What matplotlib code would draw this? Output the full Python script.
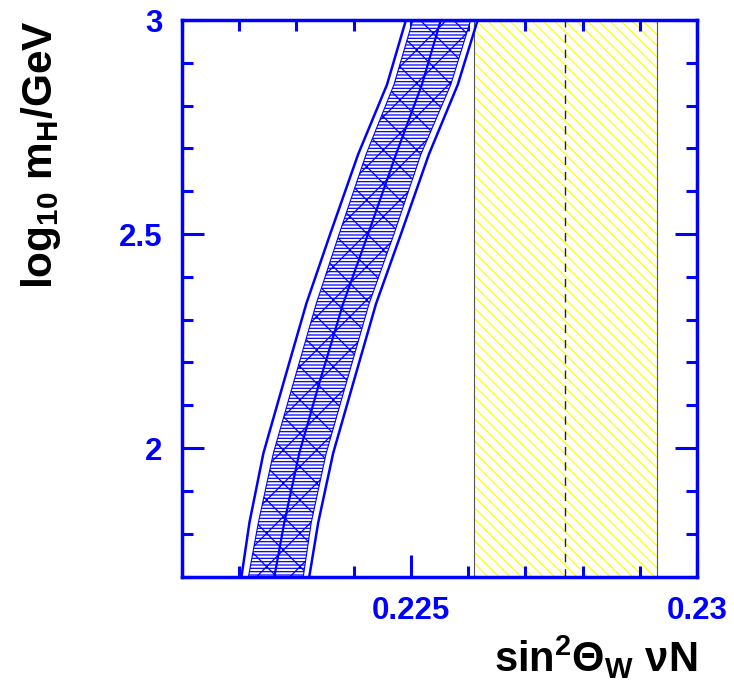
import matplotlib
matplotlib.use("Agg")
import matplotlib.pyplot as plt
from matplotlib.ticker import FixedLocator, MultipleLocator, FuncFormatter

plt.rcParams['font.family'] = ['Liberation Sans', 'DejaVu Sans']
plt.rcParams['font.weight'] = 'bold'
plt.rcParams['mathtext.fontset'] = 'custom'
plt.rcParams['mathtext.rm'] = 'Liberation Sans'
plt.rcParams['mathtext.bf'] = 'Liberation Sans:bold'
plt.rcParams['mathtext.it'] = 'Liberation Sans:bold'
plt.rcParams['mathtext.sf'] = 'Liberation Sans:bold'
plt.rcParams['mathtext.default'] = 'bf'
plt.rcParams['hatch.linewidth'] = 0.9

# ---- data ----
log_mh = [1.699, 1.826, 1.988, 2.151, 2.337, 2.5, 2.686, 2.849, 3.0]
sm_center = [0.222613, 0.222787, 0.223049, 0.223397, 0.223815, 0.224251, 0.224739, 0.225192, 0.225523]
sm_inner_lo = [0.222160, 0.222334, 0.222596, 0.222944, 0.223345, 0.223746, 0.224216, 0.224704, 0.225035]
sm_inner_hi = [0.223118, 0.223258, 0.223519, 0.223868, 0.224268, 0.224704, 0.225174, 0.225697, 0.226045]
sm_outer_lo = [0.222038, 0.222178, 0.222422, 0.222770, 0.223171, 0.223589, 0.224077, 0.224582, 0.224913]
sm_outer_hi = [0.223223, 0.223380, 0.223641, 0.223990, 0.224390, 0.224826, 0.225314, 0.225819, 0.226167]

nutev_center = 0.2277
nutev_err = 0.0016

xlim = (0.221, 0.230)
ylim = (1.699, 3.0)
xticks_major = [0.225, 0.23]
yticks_major = [2.0, 2.5, 3.0]

BLUE = '#0000ff'
YELLOW = '#ffff00'

fig = plt.figure(figsize=(7.34, 6.85), dpi=100)
ax = fig.add_axes([0.248, 0.1577, 0.7016, 0.8131])

# NuTeV band
ax.axvspan(nutev_center - nutev_err, nutev_center + nutev_err, facecolor='white',
           edgecolor=YELLOW, hatch='\\\\\\', lw=0, zorder=1)
for xv in (nutev_center - nutev_err, nutev_center + nutev_err):
    ax.axvline(xv, color='#555555', lw=0.8, zorder=2)
ax.axvline(nutev_center, color='#222222', lw=1.0, ls=(0, (6, 5)), zorder=2)

# SM band
ax.fill_betweenx(log_mh, sm_inner_lo, sm_inner_hi, facecolor='white',
                 edgecolor=BLUE, hatch='-----', lw=0, zorder=3)
ax.fill_betweenx(log_mh, sm_inner_lo, sm_inner_hi, facecolor='none',
                 edgecolor=BLUE, hatch='x', lw=0, zorder=3)
ax.plot(sm_inner_lo, log_mh, color=BLUE, lw=0.8, zorder=4)
ax.plot(sm_inner_hi, log_mh, color=BLUE, lw=0.8, zorder=4)
ax.plot(sm_center, log_mh, color=BLUE, lw=1.6, zorder=4)
ax.plot(sm_outer_lo, log_mh, color=BLUE, lw=1.8, zorder=4)
ax.plot(sm_outer_hi, log_mh, color=BLUE, lw=1.8, zorder=4)

ax.set_xlim(*xlim)
ax.set_ylim(*ylim)

ax.xaxis.set_major_locator(FixedLocator(xticks_major))
ax.xaxis.set_minor_locator(MultipleLocator(0.001))
ax.yaxis.set_major_locator(FixedLocator(yticks_major))
ax.yaxis.set_minor_locator(MultipleLocator(0.1))
fmt = FuncFormatter(lambda v, p: '%g' % round(v, 6))
ax.xaxis.set_major_formatter(fmt)
ax.yaxis.set_major_formatter(fmt)

for s in ax.spines.values():
    s.set_color(BLUE)
    s.set_linewidth(2.5)
    s.set_zorder(6)

ax.tick_params(which='both', direction='in', top=True, right=True, color=BLUE, width=2.2)
ax.tick_params(which='major', length=16, labelsize=22.5, labelcolor=BLUE, pad=14)
ax.tick_params(which='minor', length=8)
for lab in ax.get_xticklabels() + ax.get_yticklabels():
    lab.set_fontweight('bold')

ax.set_xlabel(r'sin$^{2}\mathrm{\Theta}_{W}$ $\mathrm{\nu}$N', fontsize=30,
              fontweight='bold', loc='right', color='black', labelpad=5)
ax.set_ylabel(r'log$_{10}$ m$_{H}$/GeV', fontsize=30.5, fontweight='bold',
              loc='top', color='black', labelpad=40)

fig.savefig('out.png', dpi=100)
